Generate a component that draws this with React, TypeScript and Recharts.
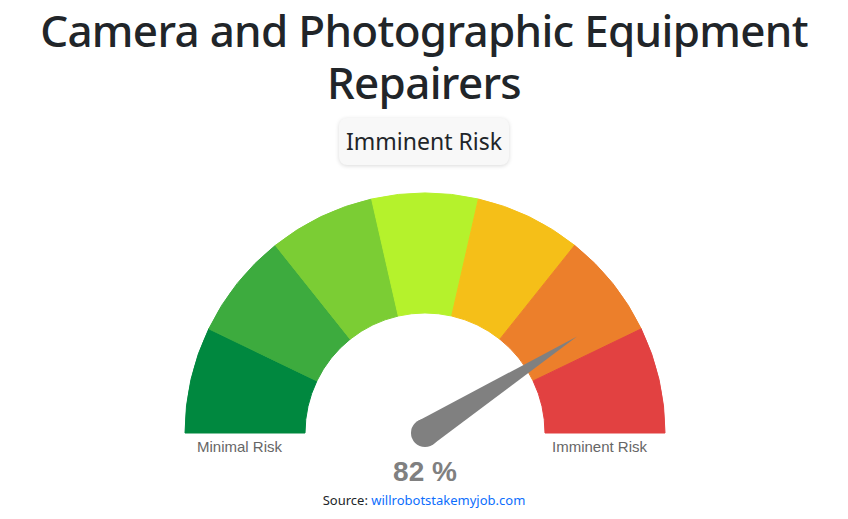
import React from "react";
import { PieChart, Pie, Cell } from "recharts";

const bands = [
  { name: "Minimal Risk", value: 1 },
  { name: "Low Risk", value: 1 },
  { name: "Moderate-Low", value: 1 },
  { name: "Moderate", value: 1 },
  { name: "Moderate-High", value: 1 },
  { name: "High Risk", value: 1 },
  { name: "Imminent Risk", value: 1 },
];

const COLORS = ["#00883f", "#3dab3e", "#7bcd34", "#b5f22c", "#f5bf18", "#ec7f2b", "#e24141"];

const riskPercent = 82;
const needleData = [
  { name: "score", value: riskPercent },
  { name: "rest", value: 100 - riskPercent },
];

const title = "Camera and Photographic Equipment Repairers";
const badge = "Imminent Risk";

const CX = 425;
const CY = 433;

function bandLabel(props: any) {
  const { index, cx, cy, outerRadius, name } = props;
  if (index !== 0 && index !== bands.length - 1) return null;
  const left = index === 0;
  return (
    <text
      x={left ? cx - outerRadius + 12 : cx + outerRadius - 18}
      y={cy + 19}
      textAnchor={left ? "start" : "end"}
      fill="#666"
      fontSize={15}
      fontFamily="Liberation Sans, Arial, sans-serif"
    >
      {name}
    </text>
  );
}

function needle(props: any) {
  const { index, cx, cy, endAngle, outerRadius } = props;
  if (index !== 0) return null;
  const rad = (endAngle * Math.PI) / 180;
  const r = 14;
  const tx = cx + outerRadius * Math.cos(rad);
  const ty = cy - outerRadius * Math.sin(rad);
  const px = r * Math.sin(rad);
  const py = r * Math.cos(rad);
  const d = `M${cx - px},${cy - py} L${tx},${ty} L${cx + px},${cy + py} Z`;
  return (
    <g>
      <path d={d} fill="#808080" />
      <circle cx={cx} cy={cy} r={r} fill="#808080" />
      <text
        x={cx}
        y={cy + 48}
        textAnchor="middle"
        fill="#808080"
        fontSize={28}
        fontWeight="bold"
        fontFamily="Liberation Sans, Arial, sans-serif"
      >
        {`${riskPercent} %`}
      </text>
    </g>
  );
}

export default function App() {
  return (
    <div
      style={{
        position: "absolute",
        left: 0,
        top: 0,
        width: 848,
        height: 519,
        background: "#fff",
        fontFamily: "'Noto Sans', sans-serif",
        overflow: "hidden",
      }}
    >
      <div
        style={{
          position: "absolute",
          top: 4,
          left: 0,
          width: 848,
          textAlign: "center",
          fontSize: 44,
          letterSpacing: -0.7,
          lineHeight: "52px",
          color: "#212529",
          fontWeight: 500,
        }}
      >
        {title}
      </div>
      <div
        style={{
          position: "absolute",
          top: 118,
          left: 0,
          width: 848,
          display: "flex",
          justifyContent: "center",
        }}
      >
        <div
          style={{
            background: "#f8f8f8",
            borderRadius: 8,
            boxShadow: "0 1px 4px rgba(0,0,0,0.15)",
            fontSize: 23,
            lineHeight: "47px",
            height: 47,
            padding: "0 7px",
            color: "#212529",
          }}
        >
          {badge}
        </div>
      </div>
      <div style={{ position: "absolute", left: 0, top: 0 }}>
        <PieChart width={848} height={519} margin={{ top: 0, right: 0, bottom: 0, left: 0 }}>
          <Pie
            data={bands}
            dataKey="value"
            nameKey="name"
            cx={CX}
            cy={CY}
            startAngle={180}
            endAngle={0}
            innerRadius={120}
            outerRadius={240}
            stroke="none"
            label={bandLabel}
            labelLine={false}
            isAnimationActive={false}
          >
            {bands.map((b, i) => (
              <Cell key={b.name} fill={COLORS[i]} stroke={COLORS[i]} />
            ))}
          </Pie>
          <Pie
            data={needleData}
            dataKey="value"
            cx={CX}
            cy={CY}
            startAngle={180}
            endAngle={0}
            innerRadius={0}
            outerRadius={180}
            fill="none"
            stroke="none"
            label={needle}
            labelLine={false}
            isAnimationActive={false}
          />
        </PieChart>
      </div>
      <div
        style={{
          position: "absolute",
          top: 491,
          left: 0,
          width: 848,
          textAlign: "center",
          fontSize: 13,
          color: "#212529",
        }}
      >
        Source: <a href="#" style={{ color: "#0d6efd", textDecoration: "none" }}>willrobotstakemyjob.com</a>
      </div>
    </div>
  );
}
